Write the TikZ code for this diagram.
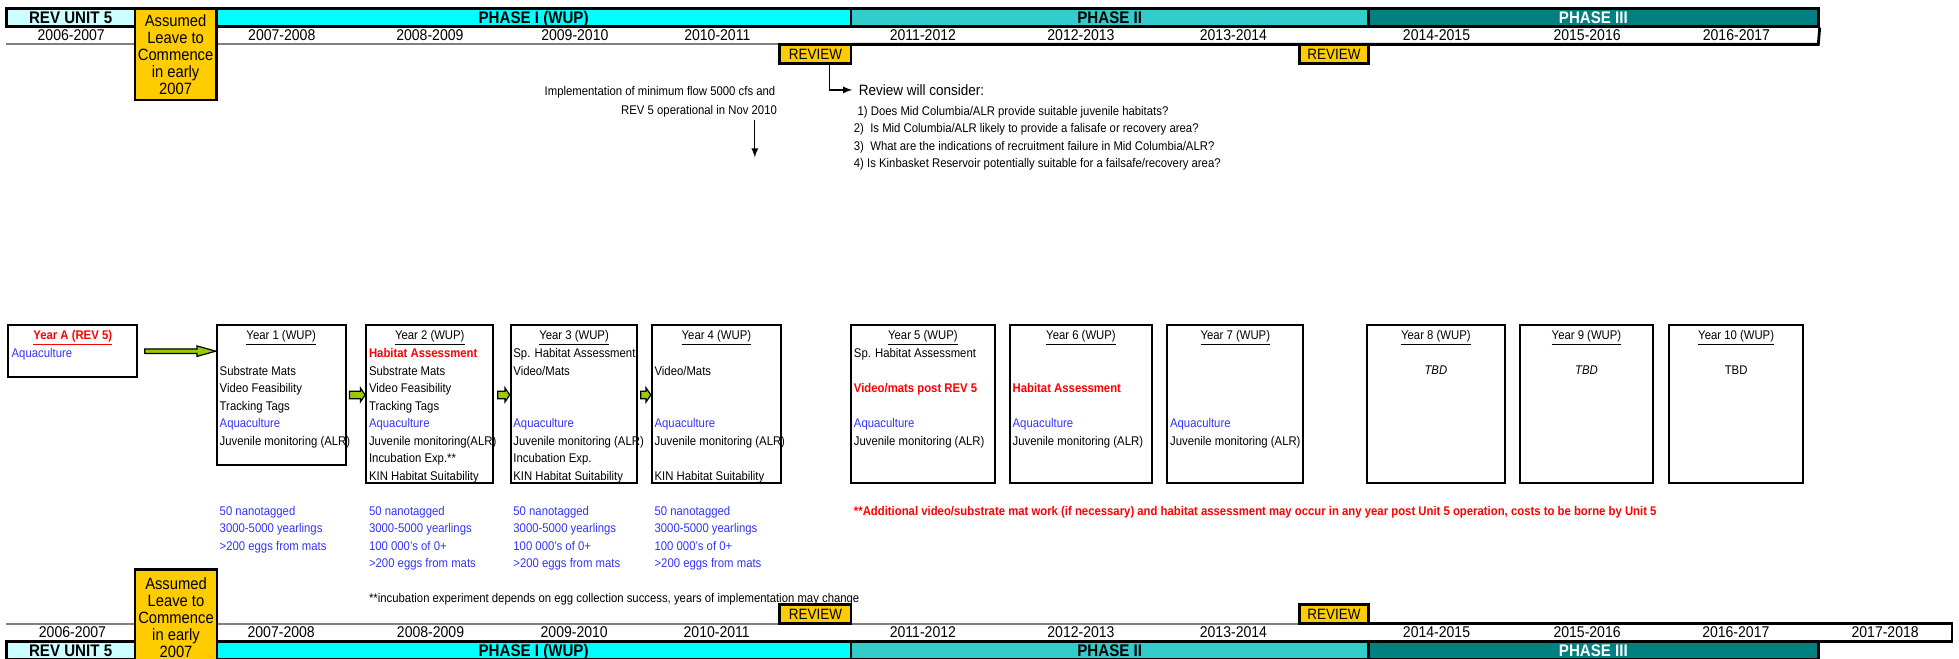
\documentclass[tikz,border=0pt]{standalone}
\usepackage{fontspec}
\setmainfont{Liberation Sans}[FakeStretch=0.9]
\usetikzlibrary{calc,fit}
\definecolor{gold}{HTML}{FFCC00}
\definecolor{phaseone}{HTML}{00FFFF}
\definecolor{phasetwo}{HTML}{33CCCC}
\definecolor{phasethree}{HTML}{008080}
\definecolor{revcell}{HTML}{CCFFFF}
\definecolor{arrgreen}{HTML}{99CC00}
\definecolor{itemblue}{HTML}{3333FF}
\definecolor{itemred}{HTML}{FF0000}
\tikzset{
  every node/.style={inner sep=0pt},
  cell/.style={draw=black, line width=1.4pt, inner sep=0pt},
  ybox/.style={draw=black, line width=1pt, inner sep=0pt},
  yrlab/.style={font=\fontsize{7.8}{9}\selectfont, anchor=mid},
  phlab/.style={font=\bfseries\fontsize{8.4}{10}\selectfont, text height=6pt, text depth=0pt},
  asmtxt/.style={align=center, font=\fontsize{8.2}{8.5}\selectfont},
  revtxt/.style={font=\fontsize{7.5}{9}\selectfont, text height=5.4pt, text depth=0pt},
  txt/.style={font=\fontsize{6.3}{7.5}\selectfont, anchor=mid west},
  blutxt/.style={txt, text=itemblue},
  hottxt/.style={txt, text=itemred, font=\bfseries\fontsize{6.3}{7.5}\selectfont},
  ttl/.style={font=\fontsize{6.3}{7.5}\selectfont, anchor=mid},
  arr/.style={draw=black, line width=0.6pt, fill=arrgreen},
}
\newcommand{\blockarr}[5]{%
  \draw[arr] ($(#1)+(0,-#3)$) -- ($(#2)+(-#5,-#3)$) -- ($(#2)+(-#5,-#4)$) -- (#2)
    -- ($(#2)+(-#5,#4)$) -- ($(#2)+(-#5,#3)$) -- ($(#1)+(0,#3)$) -- cycle;}
\begin{document}
\begin{tikzpicture}[x=0.625pt, y=-0.625pt]
\useasboundingbox (0,0) rectangle (1567.6,526.6);

\node[cell, fill=revcell, fit={(5,7) (108,21)}] (ru1) {};
\node[cell, fill=phaseone, fit={(173,7) (681,21)}] (pa1) {};
\node[cell, fill=phasetwo, fit={(681,7) (1095,21)}] (pb1) {};
\node[cell, fill=phasethree, fit={(1095,7) (1455,21)}] (pc1) {};
\node[phlab] (ru1l) at (ru1.center) {REV UNIT 5};
\node[phlab] (pa1l) at (pa1.center) {PHASE I (WUP)};
\node[phlab] (pb1l) at (pb1.center) {PHASE II};
\node[phlab, text=white] (pc1l) at (pc1.center) {PHASE III};
\draw[gray, line width=1pt] (5,35.5) -- (624,35.5);
\draw[line width=1.4pt] (681,35.5) -- (1455,35.5) -- (pc1.south east);
\node[cell, fill=gold, fit={(108,7) (173,80)}] (as1) {};
\node[asmtxt] (as1l) at (as1.center) {Assumed\\Leave to\\Commence\\in early\\2007};
\node[cell, fill=gold, fit={(624,35.5) (681,51)}] (rv1) {};
\node[cell, fill=gold, fit={(1040,35.5) (1095,51)}] (rv2) {};
\node[revtxt] (rv1l) at (rv1.center) {REVIEW};
\node[revtxt] (rv2l) at (rv2.center) {REVIEW};
\node[yrlab] (ta) at (57,28) {2006-2007};
\node[yrlab] (tb) at (225.5,28) {2007-2008};
\node[yrlab] (tc) at (344,28) {2008-2009};
\node[yrlab] (td) at (460,28) {2009-2010};
\node[yrlab] (te) at (574,28) {2010-2011};
\node[yrlab] (tf) at (738.5,28) {2011-2012};
\node[yrlab] (tg) at (865,28) {2012-2013};
\node[yrlab] (th) at (987,28) {2013-2014};
\node[yrlab] (ti) at (1149.5,28) {2014-2015};
\node[yrlab] (tj) at (1270,28) {2015-2016};
\node[yrlab] (tk) at (1389.5,28) {2016-2017};

\node[txt, anchor=mid east] (im1) at (620.7,72) {Implementation of minimum flow 5000 cfs and};
\node[txt, anchor=mid east] (im2) at (622,87) {REV 5 operational in Nov 2010};
\coordinate (fl0) at (604,96);
\coordinate (fl1) at (604,126);
\draw[-latex, line width=0.6pt] (fl0) -- (fl1);
\node[txt, font=\fontsize{7.5}{9}\selectfont] (rc) at (687,72) {Review will consider:};
\draw[-latex, line width=0.6pt] ($(rv1.south)+(11.5,0)$) |- ($(rc.west)+(-5,0)$);
\node[txt] (q1) at (686,88) {1) Does Mid Columbia/ALR provide suitable juvenile habitats?};
\node[txt] (q2) at (683,102) {2)~ Is Mid Columbia/ALR likely to provide a falisafe or recovery area?};
\node[txt] (q3) at (683,116) {3)~ What are the indications of recruitment failure in Mid Columbia/ALR?};
\node[txt] (q4) at (683,130) {4) Is Kinbasket Reservoir potentially suitable for a failsafe/recovery area?};

\node[ybox, fit={(6.7,260) (109.7,302)}] (ya) {};
\node[ybox, fit={(173.4,260) (276.7,372)}] (y1) {};
\node[ybox, fit={(293,260) (394.8,386.6)}] (y2) {};
\node[ybox, fit={(408.7,260) (510,386.6)}] (y3) {};
\node[ybox, fit={(521.6,260) (625,386.6)}] (y4) {};
\node[ybox, fit={(681,260) (796,386.6)}] (y5) {};
\node[ybox, fit={(808,260) (922,386.6)}] (y6) {};
\node[ybox, fit={(934,260) (1043,386.6)}] (y7) {};
\node[ybox, fit={(1094,260) (1204,386.6)}] (y8) {};
\node[ybox, fit={(1216,260) (1323,386.6)}] (y9) {};
\node[ybox, fit={(1335.5,260) (1443,386.6)}] (y10) {};

\node[ttl, text=itemred, font=\bfseries\fontsize{6.3}{7.5}\selectfont] (yat) at ($(ya.north)+(0,8)$) {\underline{Year A (REV 5)}};
\node[ttl] (y1t) at ($(y1.north)+(0,8)$) {\underline{Year 1 (WUP)}};
\node[ttl] (y2t) at ($(y2.north)+(0,8)$) {\underline{Year 2 (WUP)}};
\node[ttl] (y3t) at ($(y3.north)+(0,8)$) {\underline{Year 3 (WUP)}};
\node[ttl] (y4t) at ($(y4.north)+(0,8)$) {\underline{Year 4 (WUP)}};
\node[ttl] (y5t) at ($(y5.north)+(0,8)$) {\underline{Year 5 (WUP)}};
\node[ttl] (y6t) at ($(y6.north)+(0,8)$) {\underline{Year 6 (WUP)}};
\node[ttl] (y7t) at ($(y7.north)+(0,8)$) {\underline{Year 7 (WUP)}};
\node[ttl] (y8t) at ($(y8.north)+(0,8)$) {\underline{Year 8 (WUP)}};
\node[ttl] (y9t) at ($(y9.north)+(0,8)$) {\underline{Year 9 (WUP)}};
\node[ttl] (y10t) at ($(y10.north)+(0,8)$) {\underline{Year 10 (WUP)}};

\node[blutxt] (yaa) at (9,282) {Aquaculture};

\node[txt] (y1b) at (175.5,296) {Substrate Mats};
\node[txt] (y1c) at (175.5,310) {Video Feasibility};
\node[txt] (y1d) at (175.5,324) {Tracking Tags};
\node[blutxt] (y1e) at (175.5,338) {Aquaculture};
\node[txt] (y1f) at (175.5,352) {Juvenile monitoring (ALR)};

\node[hottxt] (y2a) at (295,282) {Habitat Assessment};
\node[txt] (y2b) at (295,296) {Substrate Mats};
\node[txt] (y2c) at (295,310) {Video Feasibility};
\node[txt] (y2d) at (295,324) {Tracking Tags};
\node[blutxt] (y2e) at (295,338) {Aquaculture};
\node[txt] (y2f) at (295,352) {Juvenile monitoring(ALR)};
\node[txt] (y2g) at (295,366) {Incubation Exp.**};
\node[txt] (y2h) at (295,380) {KIN Habitat Suitability};

\node[txt] (y3a) at (410.5,282) {Sp. Habitat Assessment};
\node[txt] (y3b) at (410.5,296) {Video/Mats};
\node[blutxt] (y3e) at (410.5,338) {Aquaculture};
\node[txt] (y3f) at (410.5,352) {Juvenile monitoring (ALR)};
\node[txt] (y3g) at (410.5,366) {Incubation Exp.};
\node[txt] (y3h) at (410.5,380) {KIN Habitat Suitability};

\node[txt] (y4b) at (523.5,296) {Video/Mats};
\node[blutxt] (y4e) at (523.5,338) {Aquaculture};
\node[txt] (y4f) at (523.5,352) {Juvenile monitoring (ALR)};
\node[txt] (y4h) at (523.5,380) {KIN Habitat Suitability};

\node[txt] (y5a) at (683,282) {Sp. Habitat Assessment};
\node[hottxt] (y5c) at (683,310) {Video/mats post REV 5};
\node[blutxt] (y5e) at (683,338) {Aquaculture};
\node[txt] (y5f) at (683,352) {Juvenile monitoring (ALR)};

\node[hottxt] (y6c) at (810,310) {Habitat Assessment};
\node[blutxt] (y6e) at (810,338) {Aquaculture};
\node[txt] (y6f) at (810,352) {Juvenile monitoring (ALR)};

\node[blutxt] (y7e) at (936,338) {Aquaculture};
\node[txt] (y7f) at (936,352) {Juvenile monitoring (ALR)};

\node[ttl] (y8b) at ($(y8.north)+(0,36)$) {\itshape TBD};
\node[ttl] (y9b) at ($(y9.north)+(0,36)$) {\itshape TBD};
\node[ttl] (y10b) at ($(y10.north)+(0,36)$) {TBD};

\coordinate (g0) at ($(ya.east)+(5.3,0)$);
\coordinate (g1) at (y1.west |- ya.east);
\blockarr{g0}{g1}{1.8}{4.2}{15}
\coordinate (h0) at ($(y1.east)+(2.1,0)$);
\coordinate (h1) at (y2.west |- y1.east);
\blockarr{h0}{h1}{3}{5.6}{3.8}
\coordinate (k0) at (y2.east |- y1.east);
\coordinate (k1) at (y3.west |- y1.east);
\blockarr{$(k0)+(2.7,0)$}{k1}{3}{5.6}{3.8}
\coordinate (m0) at ($(y3.east |- y1.east)+(2,0)$);
\coordinate (m1) at (y4.west |- y1.east);
\blockarr{m0}{m1}{3}{5.6}{3.8}

\node[blutxt] (n1a) at (175.5,408) {50 nanotagged};
\node[blutxt] (n1b) at (175.5,422) {3000-5000 yearlings};
\node[blutxt] (n1c) at (175.5,436) {>200 eggs from mats};
\node[blutxt] (n2a) at (295,408) {50 nanotagged};
\node[blutxt] (n2b) at (295,422) {3000-5000 yearlings};
\node[blutxt] (n2c) at (295,436) {100 000's of 0+};
\node[blutxt] (n2d) at (295,450) {>200 eggs from mats};
\node[blutxt] (n3a) at (410.5,408) {50 nanotagged};
\node[blutxt] (n3b) at (410.5,422) {3000-5000 yearlings};
\node[blutxt] (n3c) at (410.5,436) {100 000's of 0+};
\node[blutxt] (n3d) at (410.5,450) {>200 eggs from mats};
\node[blutxt] (n4a) at (523.5,408) {50 nanotagged};
\node[blutxt] (n4b) at (523.5,422) {3000-5000 yearlings};
\node[blutxt] (n4c) at (523.5,436) {100 000's of 0+};
\node[blutxt] (n4d) at (523.5,450) {>200 eggs from mats};
\node[hottxt] (nt) at (683,408) {**Additional video/substrate mat work (if necessary) and habitat assessment may occur in any year post Unit 5 operation, costs to be borne by Unit 5};
\node[txt] (fn) at (295,478) {**incubation experiment depends on egg collection success, years of implementation may change};

\draw[gray, line width=1pt] (5,499) -- (624,499);
\draw[gray, line width=1pt] (681,499) -- (1040,499);
\draw[line width=1.4pt] (1095,499) -- (1562,499) -- (1562,513.5) -- (5,513.5);
\node[cell, fill=revcell, fit={(5,513.5) (108,527.5)}] (ru2) {};
\node[cell, fill=phaseone, fit={(173,513.5) (681,527.5)}] (pa2) {};
\node[cell, fill=phasetwo, fit={(681,513.5) (1095,527.5)}] (pb2) {};
\node[cell, fill=phasethree, fit={(1095,513.5) (1455,527.5)}] (pc2) {};
\node[phlab] (ru2l) at (ru2.center) {REV UNIT 5};
\node[phlab] (pa2l) at (pa2.center) {PHASE I (WUP)};
\node[phlab] (pb2l) at (pb2.center) {PHASE II};
\node[phlab, text=white] (pc2l) at (pc2.center) {PHASE III};
\node[cell, fill=gold, fit={(108,455.7) (173.7,532.3)}] (as2) {};
\node[asmtxt] (as2l) at (as2.center) {Assumed\\Leave to\\Commence\\in early\\2007};
\node[cell, fill=gold, fit={(624,484) (681,499)}] (rv3) {};
\node[cell, fill=gold, fit={(1040,484) (1095,499)}] (rv4) {};
\node[revtxt] (rv3l) at (rv3.center) {REVIEW};
\node[revtxt] (rv4l) at (rv4.center) {REVIEW};
\node[yrlab] (ba) at (58,506) {2006-2007};
\node[yrlab] (bb) at (225,506) {2007-2008};
\node[yrlab] (bc) at (344.5,506) {2008-2009};
\node[yrlab] (bd) at (459.5,506) {2009-2010};
\node[yrlab] (be) at (573.5,506) {2010-2011};
\node[yrlab] (bf) at (738.5,506) {2011-2012};
\node[yrlab] (bg) at (865,506) {2012-2013};
\node[yrlab] (bh) at (987,506) {2013-2014};
\node[yrlab] (bi) at (1149.5,506) {2014-2015};
\node[yrlab] (bj) at (1270,506) {2015-2016};
\node[yrlab] (bk) at (1389,506) {2016-2017};
\node[yrlab] (bl) at (1508.5,506) {2017-2018};
\end{tikzpicture}
\end{document}
